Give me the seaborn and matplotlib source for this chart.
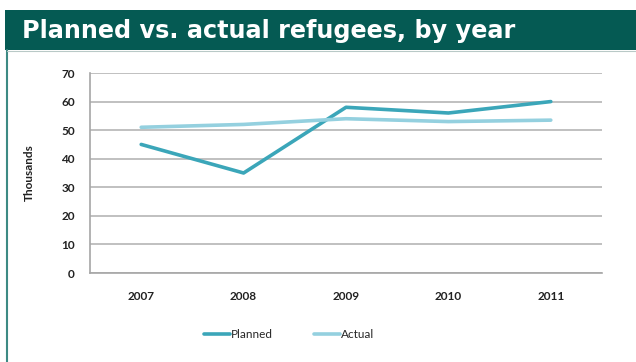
import matplotlib
matplotlib.use("Agg")
import matplotlib.pyplot as plt
import seaborn as sns
import pandas as pd
import numpy as np
from matplotlib.patches import Rectangle
from matplotlib.lines import Line2D

years = ["2007", "2008", "2009", "2010", "2011"]
planned = [45, 35, 58, 56, 60]
actual = [51, 52, 54, 53, 53.5]
series_names = ["Planned", "Actual"]
colors = ["#3ba6b9", "#94d0df"]
title = "Planned vs. actual refugees, by year"
ylabel = "Thousands"

df = pd.DataFrame({
    "year": years * 2,
    "value": planned + actual,
    "series": [series_names[0]] * len(years) + [series_names[1]] * len(years),
})
df["pos"] = df["year"].map({y: i for i, y in enumerate(years)})

sns.set_style("white")
plt.rcParams["font.family"] = ["Lato", "DejaVu Sans"]

fig = plt.figure(figsize=(6.36, 3.62), dpi=100)

# header band and frame
fig.patches.append(Rectangle((5 / 636, 1 - 50 / 362), 631 / 636, 40 / 362,
                             transform=fig.transFigure, facecolor="#055a53",
                             edgecolor="none", zorder=0))
fig.lines.append(Line2D([7 / 636, 7 / 636], [0, 1 - 50 / 362],
                        transform=fig.transFigure, color="#3d8a84", lw=1.5))
fig.lines.append(Line2D([7 / 636, 1], [1 - 51 / 362, 1 - 51 / 362],
                        transform=fig.transFigure, color="#b9c9c7", lw=0.8))
fig.text(22 / 636, 1 - 31 / 362, title, color="white", fontsize=17.2,
         fontweight="bold", family="DejaVu Sans", va="center", ha="left")

ax = fig.add_axes([90 / 636, 1 - 273 / 362, 512 / 636, 200 / 362])
sns.lineplot(data=df, x="pos", y="value", hue="series", palette=colors,
             linewidth=2.6, ax=ax, legend=False, sort=False)

ax.set_xlim(-0.5, 4.5)
ax.set_ylim(0, 70)
ax.set_yticks(range(0, 71, 10))
ax.set_xticks(range(len(years)))
ax.set_xticklabels(years)
ax.set_xticks(np.arange(-0.5, 4.6, 1), minor=True)
ax.tick_params(axis="x", which="major", length=0, pad=13, labelsize=8.5)
ax.tick_params(axis="x", which="minor", length=5, color="#a6a6a6", width=1)
ax.tick_params(axis="y", length=5, color="#a6a6a6", width=1, labelsize=8.5, pad=6)
for lab in ax.get_xticklabels() + ax.get_yticklabels():
    lab.set_fontweight("bold")
    lab.set_color("#222222")
ax.yaxis.grid(True, color="#b5b5b5", lw=1.2)
ax.set_axisbelow(True)
for s in ["top", "right"]:
    ax.spines[s].set_visible(False)
for s in ["left", "bottom"]:
    ax.spines[s].set_color("#a6a6a6")
    ax.spines[s].set_linewidth(1.2)
ax.set_xlabel("")
ax.set_ylabel(ylabel, fontsize=8.5, fontweight="bold", labelpad=19, color="#222222")

handles = [Line2D([], [], color=c, lw=2.6) for c in colors]
fig.legend(handles, series_names, loc="center", bbox_to_anchor=(289 / 636, 1 - 335 / 362),
           ncol=2, frameon=False, fontsize=8.5, handlelength=2.2, handletextpad=0.1,
           columnspacing=3.5)

fig.savefig("out.png", dpi=100)
